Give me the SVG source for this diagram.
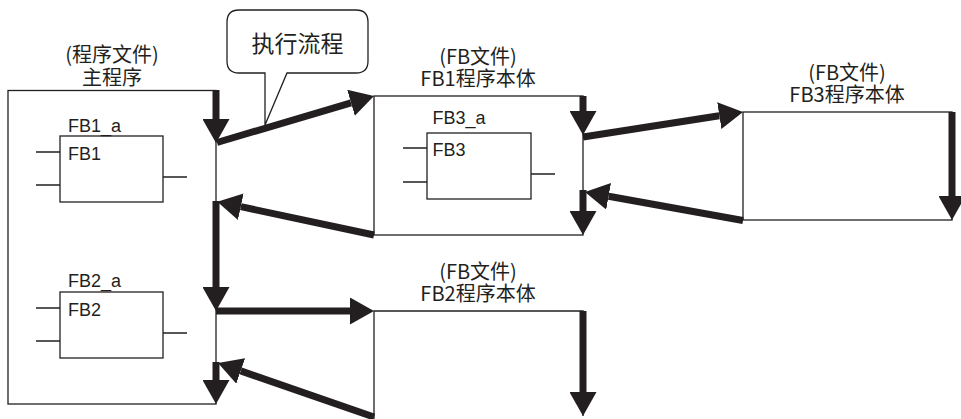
<svg xmlns="http://www.w3.org/2000/svg" width="961" height="419" viewBox="0 0 961 419">
<style>
.box{fill:none;stroke:#231f20;stroke-width:1.3}
.thin{fill:none;stroke:#231f20;stroke-width:1.3}
.flow{fill:none;stroke:#231f20;stroke-width:7;marker-end:url(#ah)}
.lbl{font-family:"Noto Sans CJK SC","Noto Sans",sans-serif;font-size:20px;fill:#231f20;text-anchor:middle}
.fb{font-family:"Liberation Sans",Arial,sans-serif;font-size:18px;fill:#231f20}
.call{font-family:"Noto Sans CJK SC",sans-serif;font-size:23px;fill:#231f20;text-anchor:middle}
</style>
<defs>
<marker id="ah" markerUnits="userSpaceOnUse" markerWidth="24" markerHeight="27" viewBox="0 0 24 27" refX="0" refY="13.5" orient="auto">
<path d="M0,0 L24,13.5 L0,27 Z" fill="#231f20"/>
</marker>
</defs>
<rect width="961" height="419" fill="#ffffff"/>

<g id="main-program">
<rect class="box" x="8" y="90.5" width="208" height="313.5"/>
<text class="lbl" x="112" y="62">(程序文件)<tspan x="112" dy="23">主程序</tspan></text>
</g>

<g id="fb1-instance">
<text class="fb" x="68" y="131.5">FB1_a</text>
<rect class="box" x="60" y="136" width="103" height="66"/>
<text class="fb" x="68" y="160">FB1</text>
<path class="thin" d="M36,152 H60 M36,185 H60 M163,177 H187"/>
</g>

<g id="fb2-instance">
<text class="fb" x="68" y="287">FB2_a</text>
<rect class="box" x="60" y="292" width="103" height="66"/>
<text class="fb" x="68" y="316">FB2</text>
<path class="thin" d="M36,308 H60 M36,341 H60 M163,333 H187"/>
</g>

<g id="fb1-body">
<rect class="box" x="374" y="96" width="209" height="139"/>
<text class="lbl" x="478" y="64">(FB文件)<tspan x="478" dy="22">FB1程序本体</tspan></text>
</g>

<g id="fb3-instance">
<text class="fb" x="432.5" y="124">FB3_a</text>
<rect class="box" x="427" y="133" width="104" height="66"/>
<text class="fb" x="432.5" y="156">FB3</text>
<path class="thin" d="M403,148 H427 M403,182 H427 M531,174 H555"/>
</g>

<g id="fb3-body">
<rect class="box" x="743" y="112" width="209" height="108"/>
<text class="lbl" x="847" y="80">(FB文件)<tspan x="847" dy="22">FB3程序本体</tspan></text>
</g>

<g id="fb2-body">
<path class="box" d="M374,419 V311 H583 V416"/>
<text class="lbl" x="478" y="279">(FB文件)<tspan x="478" dy="22">FB2程序本体</tspan></text>
</g>

<g id="callout">
<path d="M239,10 H356 Q368,10 368,22 V61 Q368,73 356,73 H287 L265,125 L265,73 H239 Q227,73 227,61 V22 Q227,10 239,10 Z" fill="#ffffff" stroke="#231f20" stroke-width="1.3"/>
<text class="call" x="297.5" y="52">执行流程</text>
</g>

<g id="connectors">
<line class="flow" x1="216" y1="90" x2="216" y2="119"/>
<line class="flow" x1="217" y1="142.5" x2="351" y2="102.8"/>
<line class="flow" x1="583" y1="96" x2="583" y2="111"/>
<line class="flow" x1="583" y1="137" x2="719.3" y2="115.7"/>
<line class="flow" x1="952" y1="112" x2="952" y2="196"/>
<line class="flow" x1="743" y1="220.5" x2="608.6" y2="196.3"/>
<line class="flow" x1="583" y1="190" x2="583" y2="211"/>
<line class="flow" x1="374" y1="235" x2="240.8" y2="206.7"/>
<line class="flow" x1="216" y1="201" x2="216" y2="287"/>
<line class="flow" x1="216" y1="311" x2="350" y2="311"/>
<line class="flow" x1="583" y1="311" x2="583" y2="392"/>
<line class="flow" x1="374" y1="417" x2="240.7" y2="370.9"/>
<line class="flow" x1="216" y1="362" x2="216" y2="380"/>
</g>
</svg>
